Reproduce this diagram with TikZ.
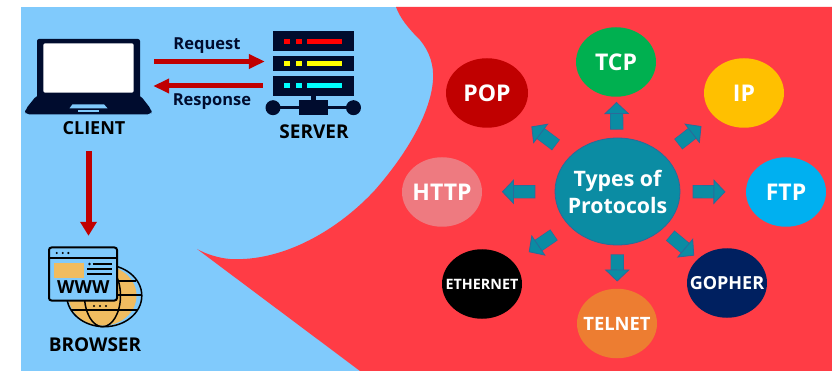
\documentclass[tikz,border=0pt]{standalone}
\usepackage{fontspec}
\setmainfont{Open Sans}
\usetikzlibrary{arrows.meta,shapes.geometric}
\definecolor{sky}{HTML}{80CAFC}
\definecolor{redbg}{HTML}{FF3C45}
\definecolor{ink}{HTML}{000C2E}
\definecolor{darkred}{HTML}{C00000}
\definecolor{teal}{HTML}{0B8CA3}
\definecolor{tealline}{HTML}{2B6A9A}
\definecolor{sand}{HTML}{F0BC60}
\definecolor{ledred}{HTML}{FF0000}
\definecolor{ledyellow}{HTML}{FFFF00}
\definecolor{ledcyan}{HTML}{00FFFF}
\tikzset{
  x=1pt,y=-1pt,
  proto/.style={ellipse,inner sep=-30pt,minimum width=80pt,minimum height=69.5pt,text=white,font=\bfseries\fontsize{23}{25}\selectfont},
  rowlabel/.style={text=black,font=\bfseries\fontsize{19}{20}\selectfont,inner sep=0pt},
  smalllabel/.style={text=ink,font=\bfseries\fontsize{16.5}{18}\selectfont,inner sep=0pt},
  redarrow/.style={draw=darkred,line width=5pt,-{Triangle[length=16pt,width=14pt]}},
  blockarrow/.style={draw=teal,line width=12pt,
    -{Triangle[length=12pt,width=25pt,line width=.8pt,color=tealline,fill=teal]}},
  blockedge/.style={draw=tealline,line width=13.2pt},
  box/.style={inner sep=0pt,draw=none},
  glb/.style={draw=black,line width=1.5pt},
}
\begin{document}
\begin{tikzpicture}
\useasboundingbox (0,0) rectangle (832,371);
\fill[white] (0,0) rectangle (832,371);
\fill[sky] (21,7) rectangle (832,371);
\fill[redbg] (396,7) .. controls (400,18) and (408,28) .. (420,40)
  .. controls (430,52) and (434,66) .. (433,80)
  .. controls (431,110) and (410,150) .. (375,190)
  .. controls (340,228) and (285,262) .. (230,259)
  .. controls (218,258) and (206,254) .. (197,249)
  -- (360,371) -- (832,371) -- (832,7) -- cycle;

% laptop
\node[box,minimum width=127pt,minimum height=76pt] (laptop) at (88.5,77) {};
\fill[ink,rounded corners=2pt] (37,39) rectangle (140,100);
\fill[ink,rounded corners=4pt] (37,95) -- (25,110) -- (25,114.3) -- (151.7,114.3) -- (151.7,110) -- (140,95) -- cycle;
\fill[white,rounded corners=2pt] (43.3,43.3) rectangle (133.7,92.7);
\fill[sky] (72.5,104.3) -- (104,104.3) -- (107.5,108.3) -- (69.5,108.3) -- cycle;
\fill[sky] (78.3,110.5) rectangle (99,112.5);
\node[rowlabel,font=\bfseries\fontsize{18}{20}\selectfont] (client) at (94,128) {CLIENT};

% server
\node[box,minimum width=97pt,minimum height=84pt] (rack) at (313.5,73) {};
\fill[ink] (273.3,31.3) rectangle (353.7,51);
\fill[ink] (273.3,56) rectangle (353.7,71);
\fill[ink] (273.3,75.7) rectangle (353.7,95.7);
\foreach \yy/\cc in {39/ledred,61/ledyellow,83.3/ledcyan}{
  \fill[\cc] (284.3,\yy) rectangle +(6,5);
  \fill[\cc] (296,\yy) rectangle +(6,5);
  \fill[\cc] (307.3,\yy) rectangle +(35,5);
}
\fill[ink] (310.7,95) rectangle (316,101);
\fill[ink] (299,100) rectangle (328,115);
\fill[ink] (273,106) rectangle (353.5,108.7);
\fill[ink] (273,107.7) circle (7.5);
\fill[ink] (353.5,107.7) circle (7.5);
\node[rowlabel] (server) at (314,131.7) {SERVER};

% browser
\node[box,minimum width=94pt,minimum height=80pt] (browsericon) at (95,287) {};
\fill[sand] (102.5,295.7) ellipse [x radius=34,y radius=30];
\draw[glb] (104.3,295.7) ellipse [x radius=37.5,y radius=31];
\draw[glb] (102.5,295.7) ellipse [x radius=18,y radius=31];
\draw[glb] (112,281) -- (136,281);
\draw[glb] (112,295) -- (141,295);
\draw[glb] (71,310) -- (137,310);
\fill (94,306) circle (1.2) (100,306) circle (1.2) (106,306) circle (1.2);
\draw[draw=black,fill=sky,line width=2pt,rounded corners=2.5pt] (49,247.5) rectangle (117,300.5);
\draw[black,line width=1.7pt] (49,257.8) -- (117,257.8);
\fill (56.7,253) circle (1.2) (62.7,253) circle (1.2) (68.3,253) circle (1.2);
\fill[sand] (53.5,263) rectangle (84.3,278);
\fill (89.5,264) circle (1.3);
\draw[black,line width=1.2pt] (92.5,264) -- (112,264) (87.3,269) -- (112,269) (87.3,274) -- (112,274);
\node[inner sep=0pt,text=black,font=\bfseries\fontsize{18}{18}\selectfont] (www) at (83.3,287.5) {WWW};
\node[rowlabel] (browser) at (95,344.7) {BROWSER};

% red connectors
\draw[redarrow,shorten <=2pt,shorten >=0pt] ([yshift=15.5pt]laptop.east) -- ([yshift=11.5pt]rack.west);
\draw[redarrow,shorten <=2pt,shorten >=1pt] ([yshift=-13pt]rack.west) -- ([yshift=-9pt]laptop.east);
\draw[draw=darkred,line width=6pt,-{Triangle[length=14pt,width=16pt]},shorten <=36pt,shorten >=11pt] (laptop.south) -- (laptop.south |- browsericon.north);
\node[smalllabel] (req) at (207,45.7) {Request};
\node[smalllabel] (resp) at (212,102) {Response};

% protocol nodes
\node[proto,fill=darkred,minimum width=82pt] (pop) at (487,93) {POP};
\node[proto,fill={rgb,255:red,0;green,176;blue,80}] (tcp) at (616,62) {TCP};
\node[proto,fill={rgb,255:red,255;green,192;blue,0}] (ip) at (744,93) {IP};
\node[proto,fill={rgb,255:red,238;green,122;blue,128}] (http) at (442,192) {HTTP};
\node[proto,fill={rgb,255:red,0;green,176;blue,240}] (ftp) at (786,192) {FTP};
\node[proto,fill=black,font=\bfseries\fontsize{14.3}{16}\selectfont] (eth) at (482,284) {ETHERNET};
\node[proto,fill={rgb,255:red,0;green,32;blue,96},font=\bfseries\fontsize{18}{20}\selectfont] (gopher) at (727,283) {GOPHER};
\node[proto,fill={rgb,255:red,237;green,125;blue,49},font=\bfseries\fontsize{18.4}{21}\selectfont] (telnet) at (617,323.5) {TELNET};
\node[ellipse,inner sep=-40pt,minimum width=125pt,minimum height=107pt,fill=teal,draw=tealline,line width=.8pt,text=white,align=center,font=\bfseries\fontsize{21.3}{27}\selectfont] (core) at (617.5,191.5) {Types of\\Protocols};

% block arrows
\foreach \tgt/\sa/\sb in {tcp/8/5,pop/18/17,ip/18/16,http/19.3/19.7,ftp/12.3/20.3,eth/17.3/18.3,gopher/10/5,telnet/9/7}{
  \draw[blockedge,shorten <=\sa pt,shorten >=\sb pt+7pt] (core) -- (\tgt);
  \draw[blockarrow,shorten <=\sa pt+.6pt,shorten >=\sb pt] (core) -- (\tgt);
}
\end{tikzpicture}
\end{document}
